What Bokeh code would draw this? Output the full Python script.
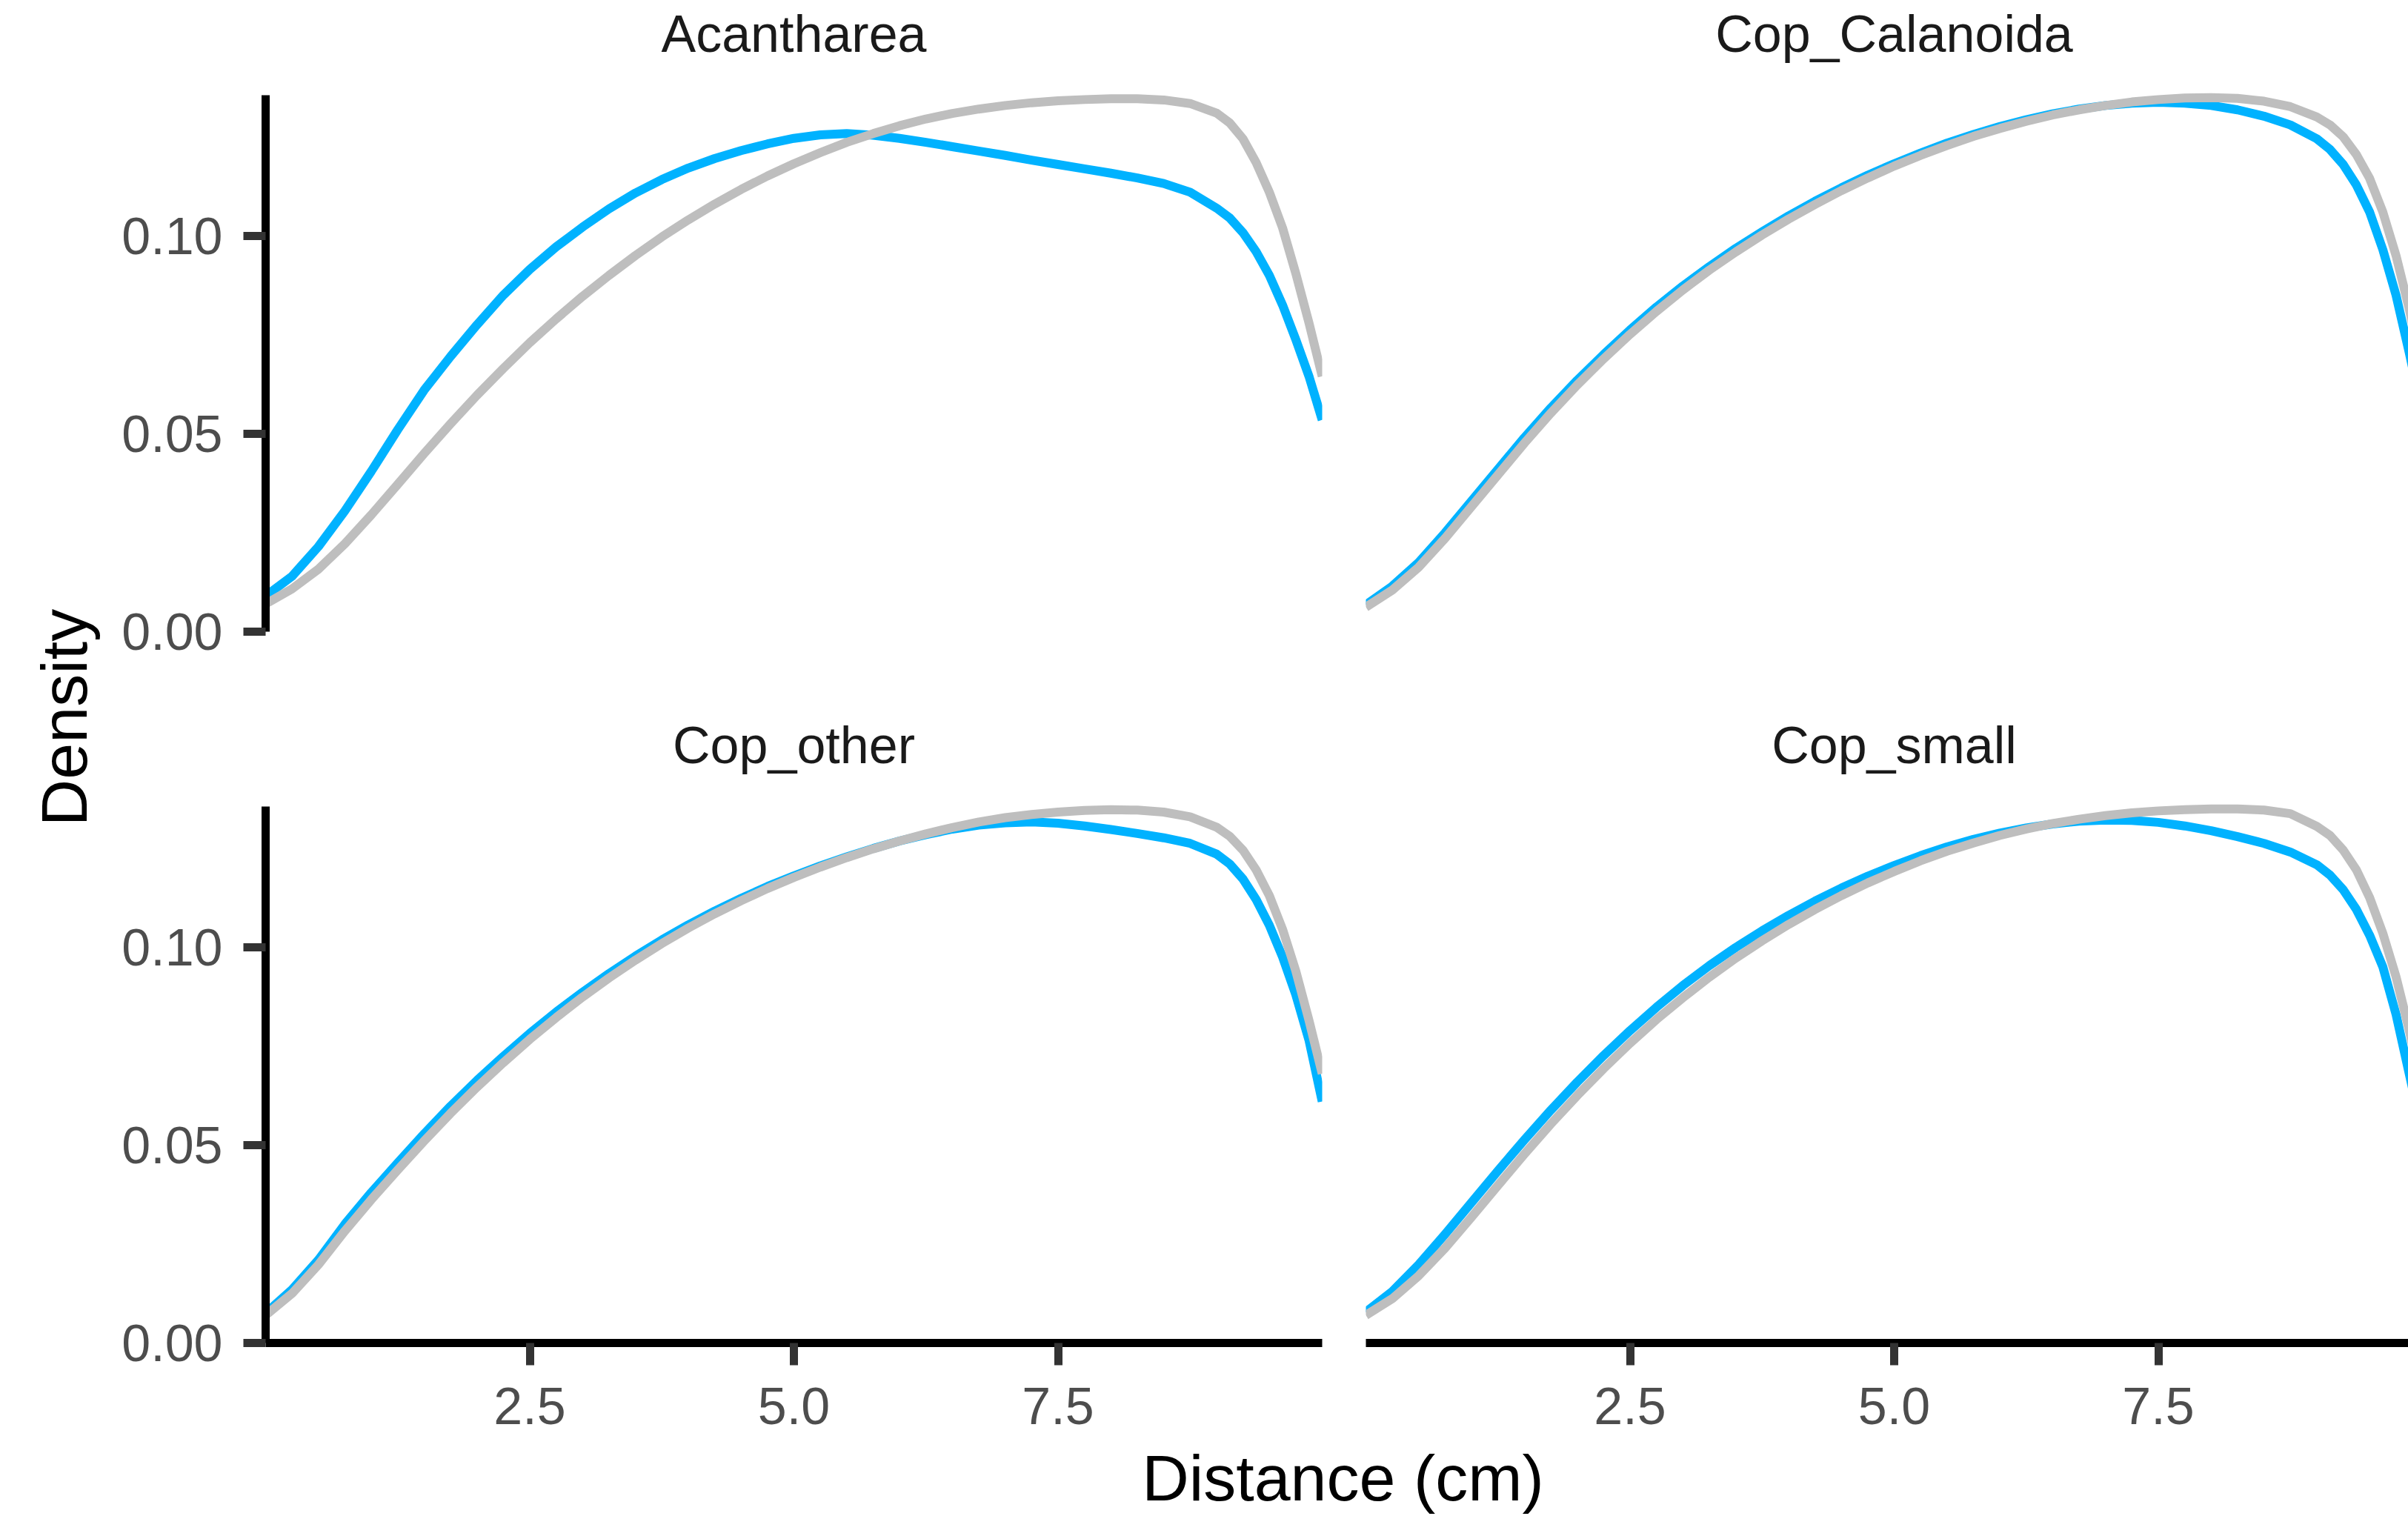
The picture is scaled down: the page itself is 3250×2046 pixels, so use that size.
import math
from bokeh.plotting import figure
from bokeh.layouts import row, column
from bokeh.models import Range1d, FixedTicker, PrintfTickFormatter
from bokeh.core.properties import value
from bokeh.embed import file_html
from bokeh.resources import INLINE

# ---------------- data ----------------
panels = ["Acantharea", "Cop_Calanoida", "Cop_other", "Cop_small"]
distance = [0, 0.25, 0.5, 0.75, 1, 1.25, 1.5, 1.75, 2, 2.25, 2.5, 2.75, 3, 3.25, 3.5, 3.75,
            4, 4.25, 4.5, 4.75, 5, 5.25, 5.5, 5.75, 6, 6.25, 6.5, 6.75, 7, 7.25, 7.5, 7.75,
            8, 8.25, 8.5, 8.75, 9, 9.125, 9.25, 9.375, 9.5, 9.625, 9.75, 9.875, 10]

acantharea_blue = [0.0090, 0.0140, 0.0215, 0.0305, 0.0405, 0.0510, 0.0610, 0.0695, 0.0775, 0.0850,
                   0.0915, 0.0972, 0.1022, 0.1068, 0.1108, 0.1142, 0.1171, 0.1195, 0.1215, 0.1232,
                   0.1246, 0.1255, 0.1258, 0.1254, 0.1246, 0.1236, 0.1225, 0.1214, 0.1203, 0.1191,
                   0.1180, 0.1169, 0.1158, 0.1146, 0.1132, 0.1110, 0.1070, 0.1045, 0.1008, 0.0960,
                   0.0900, 0.0825, 0.0738, 0.0645, 0.0535]
acantharea_gray = [0.0070, 0.0108, 0.0158, 0.0222, 0.0295, 0.0372, 0.0450, 0.0525, 0.0597, 0.0665,
                   0.0730, 0.0790, 0.0847, 0.0900, 0.0950, 0.0997, 0.1040, 0.1080, 0.1117, 0.1151,
                   0.1182, 0.1210, 0.1236, 0.1258, 0.1278, 0.1295, 0.1309, 0.1320, 0.1329, 0.1336,
                   0.1341, 0.1344, 0.1346, 0.1346, 0.1343, 0.1334, 0.1310, 0.1285, 0.1245, 0.1185,
                   0.1110, 0.1020, 0.0905, 0.0780, 0.0645]

calanoida_blue = [0.0068, 0.0115, 0.0175, 0.0250, 0.0330, 0.0410, 0.0490, 0.0565, 0.0635, 0.0700,
                  0.0762, 0.0820, 0.0873, 0.0922, 0.0968, 0.1010, 0.1050, 0.1087, 0.1121, 0.1153,
                  0.1182, 0.1209, 0.1234, 0.1256, 0.1276, 0.1293, 0.1308, 0.1320, 0.1329, 0.1335,
                  0.1337, 0.1335, 0.1329, 0.1318, 0.1302, 0.1280, 0.1245, 0.1218, 0.1180, 0.1128,
                  0.1060, 0.0965, 0.0850, 0.0705, 0.0550]
calanoida_gray = [0.0062, 0.0105, 0.0163, 0.0236, 0.0316, 0.0396, 0.0476, 0.0552, 0.0623, 0.0689,
                  0.0751, 0.0809, 0.0863, 0.0913, 0.0959, 0.1002, 0.1042, 0.1079, 0.1114, 0.1146,
                  0.1176, 0.1203, 0.1228, 0.1251, 0.1271, 0.1289, 0.1305, 0.1318, 0.1329, 0.1338,
                  0.1344, 0.1348, 0.1349, 0.1347, 0.1340, 0.1326, 0.1300, 0.1280, 0.1250, 0.1205,
                  0.1145, 0.1060, 0.0950, 0.0815, 0.0660]

other_blue = [0.0075, 0.0135, 0.0210, 0.0300, 0.0380, 0.0455, 0.0528, 0.0598, 0.0663, 0.0724,
              0.0782, 0.0836, 0.0886, 0.0933, 0.0977, 0.1018, 0.1056, 0.1091, 0.1123, 0.1153,
              0.1180, 0.1205, 0.1228, 0.1249, 0.1268, 0.1284, 0.1298, 0.1308, 0.1314, 0.1316,
              0.1313, 0.1306, 0.1297, 0.1287, 0.1276, 0.1262, 0.1235, 0.1210, 0.1172, 0.1120,
              0.1055, 0.0975, 0.0880, 0.0765, 0.0610]
other_gray = [0.0070, 0.0125, 0.0198, 0.0283, 0.0362, 0.0437, 0.0510, 0.0580, 0.0646, 0.0708,
              0.0767, 0.0822, 0.0874, 0.0922, 0.0967, 0.1009, 0.1048, 0.1084, 0.1117, 0.1148,
              0.1176, 0.1202, 0.1226, 0.1248, 0.1268, 0.1286, 0.1302, 0.1316, 0.1327, 0.1335,
              0.1341, 0.1345, 0.1347, 0.1346, 0.1341, 0.1329, 0.1303, 0.1280, 0.1245, 0.1195,
              0.1130, 0.1045, 0.0940, 0.0815, 0.0680]

small_blue = [0.0078, 0.0130, 0.0198, 0.0275, 0.0355, 0.0435, 0.0513, 0.0588, 0.0659, 0.0726,
              0.0789, 0.0848, 0.0903, 0.0953, 0.0999, 0.1041, 0.1080, 0.1116, 0.1149, 0.1179,
              0.1206, 0.1231, 0.1253, 0.1272, 0.1288, 0.1301, 0.1311, 0.1318, 0.1321, 0.1320,
              0.1315, 0.1306, 0.1294, 0.1279, 0.1262, 0.1240, 0.1208, 0.1182, 0.1145, 0.1095,
              0.1030, 0.0950, 0.0830, 0.0680, 0.0530]
small_gray = [0.0070, 0.0112, 0.0170, 0.0240, 0.0318, 0.0398, 0.0477, 0.0553, 0.0625, 0.0693,
              0.0757, 0.0817, 0.0872, 0.0924, 0.0972, 0.1016, 0.1057, 0.1095, 0.1130, 0.1162,
              0.1191, 0.1218, 0.1242, 0.1263, 0.1282, 0.1298, 0.1312, 0.1323, 0.1332, 0.1339,
              0.1344, 0.1347, 0.1349, 0.1349, 0.1346, 0.1337, 0.1305, 0.1282, 0.1245, 0.1195,
              0.1125, 0.1035, 0.0925, 0.0790, 0.0640]

series_blue = [acantharea_blue, calanoida_blue, other_blue, small_blue]
series_gray = [acantharea_gray, calanoida_gray, other_gray, small_gray]

x_ticks = [2.5, 5.0, 7.5]
y_ticks = [0.0, 0.05, 0.10]
x_title = "Distance (cm)"
y_title = "Density"

X_MAX = 10.0
Y_MAX = 0.1355

# ---------------- style / layout ----------------
FONT = "Liberation Sans"
BLUE = "#00B2FF"
GRAY = "#BEBEBE"
LINE_W = 12
AXIS_W = 11
MID = 0.35            # distance from alphabetic baseline to text middle, in em

LAB_W = 140
PANEL_W = 1426
PANEL_H = 724
LEFT_BL, LEFT_BR = 218, 29
RIGHT_BL = 30
TOTAL_W = 3250
RIGHT_FRAME_W = TOTAL_W - LAB_W - (LEFT_BL + PANEL_W + LEFT_BR) - RIGHT_BL
TOP_STRIP, TOP_BB = 128, 60
BOT_STRIP, BOT_BB = 176, 128
TOTAL_H = 2046
ROWS_H = (TOP_STRIP + PANEL_H + TOP_BB) + (BOT_STRIP + PANEL_H + BOT_BB)
STRIP_FS = 70
TITLE_FS = 88


def style_axis(ax, ticks, fmt):
    ax.ticker = FixedTicker(ticks=ticks)
    ax.formatter = PrintfTickFormatter(format=fmt)
    ax.axis_line_color = "black"
    ax.axis_line_width = AXIS_W
    ax.major_tick_line_color = "#333333"
    ax.major_tick_line_width = AXIS_W
    ax.major_tick_out = 30
    ax.major_tick_in = 0
    ax.minor_tick_out = 0
    ax.minor_tick_in = 0
    ax.major_label_text_font = FONT
    ax.major_label_text_font_size = "70px"
    ax.major_label_text_color = "#4D4D4D"


def make_panel(idx, is_left, is_top):
    frame_w = PANEL_W if is_left else RIGHT_FRAME_W
    x_end = X_MAX * frame_w / PANEL_W
    strip = TOP_STRIP if is_top else BOT_STRIP
    frame_h = strip + PANEL_H
    y_end = Y_MAX * frame_h / PANEL_H
    bl = LEFT_BL if is_left else RIGHT_BL
    br = LEFT_BR if is_left else 0
    bb = TOP_BB if is_top else BOT_BB
    p = figure(width=bl + frame_w + br, height=frame_h + bb,
               x_range=Range1d(0, x_end), y_range=Range1d(0, y_end),
               output_backend="svg", toolbar_location=None,
               x_axis_location=None if is_top else "below",
               y_axis_location="left" if is_left else None)
    p.min_border_left = bl
    p.min_border_right = br
    p.min_border_top = 0
    p.min_border_bottom = bb
    p.outline_line_color = None
    p.background_fill_color = "white"
    p.border_fill_color = "white"
    for g in p.grid:
        g.visible = False
    if is_left:
        style_axis(p.yaxis[0], y_ticks, "%.2f")
        p.yaxis[0].bounds = (0, Y_MAX)
        p.yaxis[0].major_label_standoff = 28
    if not is_top:
        style_axis(p.xaxis[0], x_ticks, "%.1f")
        p.xaxis[0].bounds = (0, x_end)
        p.xaxis[0].major_label_text_line_height = 1.0
        p.xaxis[0].major_label_standoff = 30
    p.line(distance, series_blue[idx], line_color=BLUE, line_width=LINE_W,
           line_join="round", line_cap="butt")
    p.line(distance, series_gray[idx], line_color=GRAY, line_width=LINE_W,
           line_join="round", line_cap="butt")
    # strip label: baseline 58 px above the panel top
    y_mid = Y_MAX * (1 + (58 + MID * STRIP_FS) / PANEL_H)
    p.text(x=[X_MAX / 2], y=[y_mid], text=[panels[idx]], text_align="center",
           text_baseline="middle", text_font=value(FONT),
           text_font_size=value(f"{STRIP_FS}px"), text_color="#1A1A1A")
    return p


tl = make_panel(0, True, True)
tr = make_panel(1, False, True)
bl = make_panel(2, True, False)
br = make_panel(3, False, False)


def blank(w, h):
    p = figure(width=w, height=h, x_range=Range1d(0, w), y_range=Range1d(h, 0),
               output_backend="svg", toolbar_location=None,
               x_axis_location=None, y_axis_location=None, min_border=0)
    p.outline_line_color = None
    p.background_fill_color = "white"
    p.border_fill_color = "white"
    for g in p.grid:
        g.visible = False
    return p


# y title: baseline at x=117, centred at y=968 (pixels in the page)
ylab = blank(LAB_W, ROWS_H)
ylab.text(x=[117 - MID * TITLE_FS], y=[968], text=[y_title], angle=math.pi / 2,
          text_align="center", text_baseline="middle",
          text_font=value(FONT), text_font_size=value(f"{TITLE_FS}px"), text_color="black")

# x title: baseline at y=2025, centred at x=1812
XLAB_H = TOTAL_H - ROWS_H
xlab = blank(TOTAL_W, XLAB_H)
xlab.text(x=[1812], y=[2025 - ROWS_H - MID * TITLE_FS], text=[x_title],
          text_align="center", text_baseline="middle",
          text_font=value(FONT), text_font_size=value(f"{TITLE_FS}px"), text_color="black")

layout = column(row(ylab, column(row(tl, tr), row(bl, br))), xlab)

open("out.html", "w").write(file_html(layout, INLINE))
